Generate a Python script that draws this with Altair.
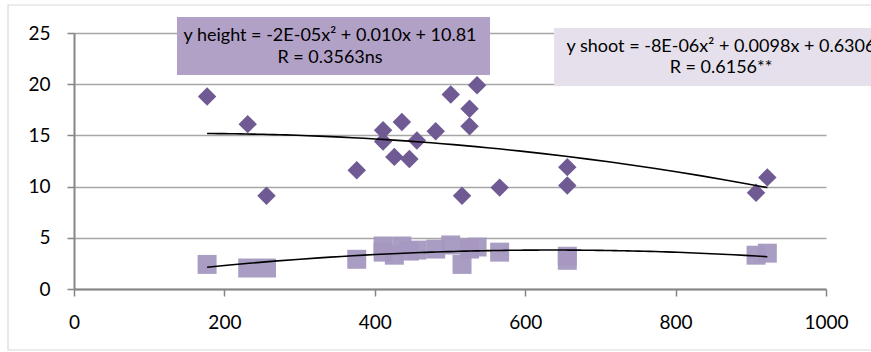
import altair as alt
import pandas as pd

# ---- data ----
x_vals = [177, 231, 256, 376, 411, 411, 426, 436, 446, 456, 481, 501, 516, 526, 526, 536, 566, 656, 656, 907, 922]
height_vals = [18.8, 16.1, 9.1, 11.6, 15.5, 14.4, 12.9, 16.3, 12.7, 14.5, 15.4, 19.0, 9.1, 17.6, 15.9, 19.9, 9.9, 11.9, 10.1, 9.4, 10.9]
shoot_vals = [2.4, 2.05, 2.05, 2.9, 4.2, 3.6, 3.3, 4.2, 3.7, 3.8, 3.9, 4.3, 2.4, 3.9, 4.0, 4.1, 3.6, 3.2, 2.8, 3.3, 3.5]
x_ticks = [0, 200, 400, 600, 800, 1000]
y_ticks = [0, 5, 10, 15, 20, 25]
eq_height = ["y height = -2E-05x\u00b2 + 0.010x + 10.81", "R = 0.3563ns"]
eq_shoot = ["y shoot = -8E-06x\u00b2 + 0.0098x + 0.6306", "R = 0.6156**"]

df = pd.DataFrame({"x": x_vals, "height": height_vals, "shoot": shoot_vals})
one = pd.DataFrame({"k": [0]})

FONT = "Lato"
C_DIAMOND = "#6F5A93"
C_SQUARE = "#A598C0"

xs = alt.Scale(domain=[0, 1000], nice=False)
ys = alt.Scale(domain=[0, 25], nice=False)

xenc = alt.X("x:Q", scale=xs, title=None,
             axis=alt.Axis(values=x_ticks, format="d", grid=False, tickSize=7, tickColor="#868686",
                           tickWidth=1.5, domainColor="#868686", domainWidth=2,
                           labelPadding=17, labelFontSize=19, labelFont=FONT,
                           labelColor="black", labelFlush=False))
yaxis = alt.Axis(values=y_ticks, grid=True, gridColor="#A6A6A6", gridWidth=1.5,
                 tickSize=7, tickColor="#868686", tickWidth=1.5, domainColor="#868686",
                 domainWidth=2, labelPadding=17, labelFontSize=19, labelFont=FONT,
                 labelColor="black")

border = alt.Chart(one).mark_rect(fillOpacity=0, stroke="#D9D9D9", strokeWidth=1.2).encode(
    x=alt.value(-66), x2=alt.value(860), y=alt.value(-28), y2=alt.value(317))

squares = alt.Chart(df).mark_point(shape="square", filled=True, size=360, opacity=0.95,
                                   color=C_SQUARE).encode(
    x=xenc, y=alt.Y("shoot:Q", scale=ys, title=None, axis=yaxis))

diamonds = alt.Chart(df).mark_point(shape="diamond", filled=True, size=340, opacity=1,
                                    color=C_DIAMOND).encode(
    x=alt.X("x:Q", scale=xs), y=alt.Y("height:Q", scale=ys))

fit_h = alt.Chart(df).transform_regression("x", "height", method="poly", order=2).mark_line(
    color="black", strokeWidth=1.6).encode(x=alt.X("x:Q", scale=xs), y=alt.Y("height:Q", scale=ys))
fit_s = alt.Chart(df).transform_regression("x", "shoot", method="poly", order=2).mark_line(
    color="black", strokeWidth=1.6).encode(x=alt.X("x:Q", scale=xs), y=alt.Y("shoot:Q", scale=ys))

box1 = alt.Chart(one).mark_rect(fill="#B2A1C7").encode(
    x=alt.value(103), x2=alt.value(416), y=alt.value(-16), y2=alt.value(42))
box2 = alt.Chart(one).mark_rect(fill="#E5E0EC").encode(
    x=alt.value(480), x2=alt.value(860), y=alt.value(-5), y2=alt.value(53))

def line(txt, x, y):
    return alt.Chart(one).mark_text(text=txt, font=FONT, fontSize=18, color="black",
                                    align="center", baseline="middle").encode(
        x=alt.value(x), y=alt.value(y))

t1a = line(eq_height[0], 256, 3)
t1b = line(eq_height[1], 256, 25)
t2a = line(eq_shoot[0], 647, 14)
t2b = line(eq_shoot[1], 647, 35)

chart = alt.layer(border, squares, diamonds, fit_h, fit_s, box1, box2, t1a, t1b, t2a, t2b).properties(
    width=752, height=256,
    autosize=alt.AutoSizeParams(type="none"),
    padding={"left": 74, "top": 33, "right": 45, "bottom": 63},
    background="white",
).configure_view(stroke=None)

chart.save("out.html", embed_options={"renderer": "svg", "actions": False})
